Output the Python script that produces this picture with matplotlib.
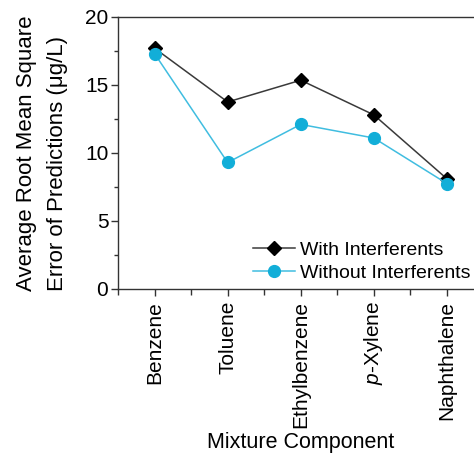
import matplotlib

matplotlib.use("Agg")
import matplotlib.pyplot as plt
from matplotlib.ticker import MultipleLocator

plt.rcParams["font.family"] = ["Liberation Sans", "DejaVu Sans"]
plt.rcParams["mathtext.fontset"] = "custom"
plt.rcParams["mathtext.it"] = "Liberation Sans:italic"
plt.rcParams["mathtext.rm"] = "Liberation Sans"

COMPONENTS = ["Benzene", "Toluene", "Ethylbenzene", "$p$-Xylene", "Naphthalene"]
WITH_INTERFERENTS = [17.7, 13.75, 15.35, 12.8, 8.1]
WITHOUT_INTERFERENTS = [17.3, 9.3, 12.1, 11.1, 7.75]

fig = plt.figure(figsize=(4.74, 4.58), dpi=100)
ax = fig.add_axes([0.249, 0.369, 0.771, 0.594])

x = list(range(len(COMPONENTS)))
ax.plot(x, WITH_INTERFERENTS, color="#3a3a3a", linewidth=1.1, marker="D",
        markersize=7.5, markerfacecolor="black", markeredgecolor="black",
        label="With Interferents")
ax.plot(x, WITHOUT_INTERFERENTS, color="#40bde0", linewidth=1.1, marker="o",
        markersize=8.5, markerfacecolor="#12aed8", markeredgecolor="#12aed8",
        label="Without Interferents")

ax.set_xlim(-0.5, 4.5)
ax.set_ylim(0, 20)
ax.set_xticks(x, COMPONENTS, rotation=90, fontsize=15)
ax.xaxis.set_minor_locator(MultipleLocator(1, offset=0.5))
ax.yaxis.set_major_locator(MultipleLocator(5))
ax.yaxis.set_minor_locator(MultipleLocator(2.5))
ax.tick_params(axis="y", labelsize=15, pad=2)
ax.tick_params(which="major", direction="out", length=5, width=1, color="#333333")
ax.tick_params(which="minor", direction="out", length=3, width=1, color="#333333")
ax.tick_params(axis="x", which="minor", length=4)

for side in ("left", "top", "bottom", "right"):
    ax.spines[side].set_color("#333333")
    ax.spines[side].set_linewidth(1)

ax.set_ylabel("Average Root Mean Square\nError of Predictions (\u03bcg/L)",
              fontsize=16, multialignment="left", labelpad=12, linespacing=1.65)
ax.set_xlabel("Mixture Component", fontsize=15.5, labelpad=3)

ax.legend(loc="lower right", bbox_to_anchor=(0.965, 0.025), frameon=False,
          fontsize=14, handlelength=2.2, handletextpad=0.25,
          labelspacing=0.3, borderaxespad=0, borderpad=0)

fig.savefig("out.png", dpi=100)
